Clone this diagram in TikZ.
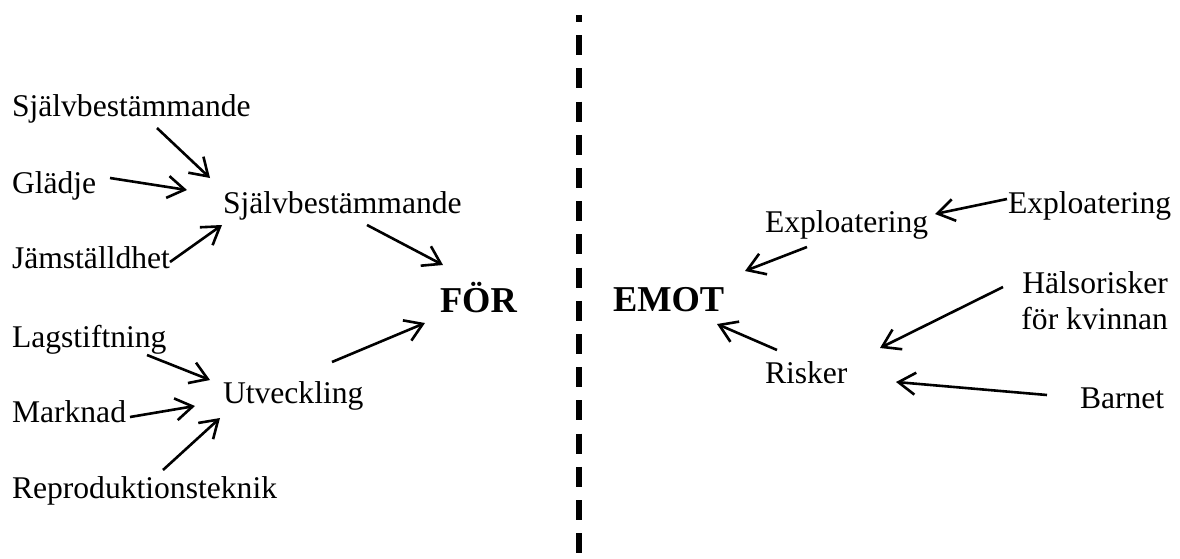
\documentclass[tikz,border=0pt]{standalone}
\usepackage{fontspec}
\setmainfont{Liberation Serif}
\usetikzlibrary{arrows.meta}
\tikzset{
  lbl/.style={inner sep=0pt, outer sep=0pt, font=\fontsize{15.8}{18}\selectfont},
  bigl/.style={inner sep=0pt, outer sep=0pt, font=\fontsize{18.2}{21}\selectfont\bfseries},
  arr/.style={line width=1.3pt, -{Straight Barb[length=8.5pt,width=11pt,line width=1.3pt]}},
  divider/.style={line width=2.6pt, dash pattern=on 10pt off 6.6pt, dash phase=6.5pt}
}
\begin{document}
\begin{tikzpicture}[x=0.5pt,y=-0.5pt]
\useasboundingbox (0,0) rectangle (1180,558);
% left side
\node[lbl, anchor=base west] (s1) at (12,116) {Självbestämmande};
\node[lbl, anchor=base west] (glad) at (12,193) {Glädje};
\node[lbl, anchor=base west] (jam) at (12,268) {Jämställdhet};
\node[lbl, anchor=base west] (s2) at (223,213) {Självbestämmande};
\node[lbl, anchor=base west] (lag) at (12,347) {Lagstiftning};
\node[lbl, anchor=base west] (mark) at (12,422) {Marknad};
\node[lbl, anchor=base west] (utv) at (223,403) {Utveckling};
\node[lbl, anchor=base west] (rep) at (12,498) {Reproduktionsteknik};
\node[bigl, anchor=base west] (for) at (440,312) {FÖR};
% right side
\node[bigl, anchor=base west] (emot) at (613,311) {EMOT};
\node[lbl, anchor=base west] (ex1) at (765,232) {Exploatering};
\node[lbl, anchor=base west] (ex2) at (1008,213) {Exploatering};
\node[lbl, anchor=north east, align=right] (hals) at (1168,272) {Hälsorisker\\för kvinnan};
\node[lbl, anchor=base west] (risk) at (765,383) {Risker};
\node[lbl, anchor=base west] (barn) at (1080,408) {Barnet};
% divider
\coordinate (dtop) at (579,15);
\coordinate (dbot) at (579,558);
\draw[divider] (dtop) -- (dbot);
% left arrows
\draw[arr] ([shift={(145,12)}]s1.base west) -- ([shift={(-13,-35)}]s2.base west);
\draw[arr] ([shift={(98,-15)}]glad.base west) -- ([shift={(-36,-23)}]s2.base west);
\draw[arr] ([shift={(158,-6)}]jam.base west) -- ([shift={(-1,12)}]s2.base west);
\draw[arr] ([shift={(144,12)}]s2.base west) -- ([shift={(3,-47)}]for.base west);
\draw[arr] ([shift={(135,8)}]lag.base west) -- ([shift={(-13,-23)}]utv.base west);
\draw[arr] ([shift={(118,-5)}]mark.base west) -- ([shift={(-28,3)}]utv.base west);
\draw[arr] ([shift={(151,-28)}]rep.base west) -- ([shift={(-3,15)}]utv.base west);
\draw[arr] ([shift={(109,-41)}]utv.base west) -- ([shift={(-15,11)}]for.base west);
% right arrows
\draw[arr] ([shift={(-1,-14)}]ex2.base west) -- ([shift={(170,-18)}]ex1.base west);
\draw[arr] ([shift={(42,15)}]ex1.base west) -- ([shift={(132,-40)}]emot.base west);
\draw[arr] ([shift={(-165,15)}]hals.north east) -- ([shift={(115,-35)}]risk.base west);
\draw[arr] ([shift={(-33,-13)}]barn.base west) -- ([shift={(131,-1)}]risk.base west);
\draw[arr] ([shift={(12,-33)}]risk.base west) -- ([shift={(104,13)}]emot.base west);
\end{tikzpicture}
\end{document}
